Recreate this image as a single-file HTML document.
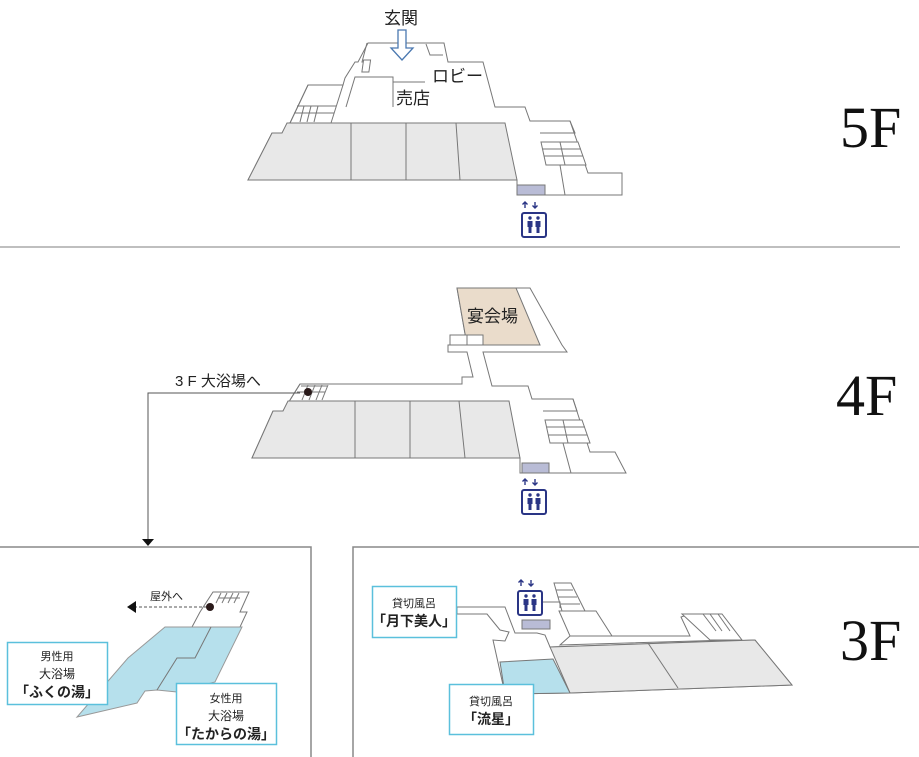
<!DOCTYPE html>
<html><head><meta charset="utf-8"><style>
html,body{margin:0;padding:0;background:#fff;}
svg{display:block;}
text{font-family:"Liberation Sans","Noto Sans CJK JP",sans-serif;fill:#222;}
.f{font-family:"Liberation Serif","Noto Serif CJK SC",serif;font-size:58px;fill:#111;}
</style></head><body>
<svg width="919" height="757" viewBox="0 0 919 757" xmlns="http://www.w3.org/2000/svg">
<defs>
<g id="ev">
  <path d="M3 -12 v-6 M0.5 -15.5 L3 -18 L5.5 -15.5 M13 -18 v6 M10.5 -14.5 L13 -12 L15.5 -14.5" stroke="#2a3585" stroke-width="1.4" fill="none"/>
  <rect x="0" y="-7" width="24" height="24" rx="2" fill="#fff" stroke="#2a3585" stroke-width="2"/>
  <circle cx="8" cy="-2" r="1.7" fill="#2a3585"/><circle cx="16" cy="-2" r="1.7" fill="#2a3585"/>
  <path d="M5.5 1h5v6h-1v6h-3v-6h-1z M13.5 1h5v6h-1v6h-3v-6h-1z" fill="#2a3585"/>
</g>
</defs>
<g stroke="#777" stroke-width="1" fill="#fff">
<!-- 5F -->
<polygon points="368,43 444,43 448,62 483,62 495,107 525,107 530,121 570,121 588,173 622,173 622,195 517,195 517,180 248,180 272,133 282,133 290,123 308,85 343,85 345,78 355,62 358,62"/>
<polygon points="248,180 272,133 282,133 287,123 505,123 517,180" fill="#e8e8e8"/>
<line x1="351" y1="123" x2="351" y2="180"/><line x1="406" y1="123" x2="406" y2="180"/><line x1="456" y1="123" x2="460" y2="180"/>
<polyline points="346,107 355,77 393,77 393,107" fill="none"/><line x1="393" y1="82" x2="425" y2="82"/>
<polyline points="367,43 362,62 370,62" fill="none"/><rect x="372" y="60" width="7" height="12" transform="skewX(-8)"/>
<polyline points="426,44 430,55 443,55" fill="none"/>
<polyline points="290,123 308,85 343,85 331,123" fill="none"/>
<line x1="297" y1="106" x2="336" y2="106"/><line x1="294" y1="113" x2="334" y2="113"/>
<line x1="304" y1="106" x2="300" y2="122"/><line x1="311" y1="106" x2="307" y2="122"/><line x1="318" y1="106" x2="314" y2="122"/>
<polyline points="536,121 570,121 575,133 540,133" fill="none"/>
<polygon points="541,142 578,142 586,165 546,165"/><line x1="560" y1="142" x2="565" y2="165"/>
<line x1="543" y1="149" x2="581" y2="149"/><line x1="544" y1="156" x2="583" y2="156"/>
<line x1="560" y1="165" x2="565" y2="195"/>
<rect x="517" y="185" width="28" height="10" fill="#b9bcd6"/>
<!-- 4F -->
<polygon points="457,288 530,288 562,345 567,352 483,352 492,386 528,386 532,399 573,399 590,452 615,452 626,473 520,473 520,458 252,458 273,411 283,411 290,400 300,384 462,384 462,377 473,377 467,352 448,352 448,345 467,345"/>
<polygon points="457,288 516,288 540,345 467,345" fill="#eadccb"/>
<rect x="450" y="335" width="17" height="10"/><rect x="467" y="335" width="16" height="10"/>
<polygon points="252,458 273,411 283,411 288,401 509,401 520,458" fill="#e8e8e8"/>
<line x1="355" y1="401" x2="355" y2="458"/><line x1="410" y1="401" x2="410" y2="458"/><line x1="459" y1="401" x2="465" y2="458"/>
<line x1="300" y1="384" x2="290" y2="400"/>
<line x1="301" y1="386" x2="327" y2="386"/><line x1="297" y1="392" x2="325" y2="392"/>
<line x1="308" y1="385" x2="302" y2="400"/><line x1="315" y1="385" x2="309" y2="400"/><line x1="322" y1="385" x2="316" y2="400"/><line x1="328" y1="385" x2="322" y2="400"/>
<polyline points="539,399 573,399 577,411 543,411" fill="none"/>
<polygon points="545,420 582,420 590,443 550,443"/><line x1="563" y1="420" x2="568" y2="443"/>
<line x1="547" y1="427" x2="585" y2="427"/><line x1="548" y1="435" x2="587" y2="435"/>
<line x1="563" y1="443" x2="571" y2="473"/>
<rect x="522" y="463" width="27" height="10" fill="#b9bcd6"/>
</g>
<!-- separator -->
<line x1="0" y1="247" x2="900" y2="247" stroke="#aaa" stroke-width="1.5"/>
<!-- connector -->
<polyline points="300,393 148,393 148,540" fill="none" stroke="#555" stroke-width="1"/>
<polygon points="142,539 154,539 148,546" fill="#111"/>
<circle cx="308" cy="392" r="4" fill="#2a1a1a"/>
<text x="175" y="386" font-size="15">3 F 大浴場へ</text>
<!-- panels -->
<polyline points="0,547 311,547 311,757" fill="none" stroke="#888" stroke-width="1.5"/>
<polyline points="353,757 353,547 919,547" fill="none" stroke="#888" stroke-width="1.5"/>
<!-- 3F left -->
<g stroke="#777" stroke-width="1">
<polygon points="213,592 249,592 240,612 247,612 240,627 192,627 200,612" fill="#fff"/>
<line x1="218" y1="598" x2="240" y2="598"/>
<line x1="221" y1="593" x2="216" y2="603"/><line x1="227" y1="593" x2="222" y2="603"/><line x1="233" y1="593" x2="228" y2="603"/><line x1="239" y1="593" x2="234" y2="603"/>
<polygon points="165,627 242,627 215,682 177,692 157,690 145,691 137,703 77,717 128,658" fill="#b6e0ec" stroke="#999"/>
<polyline points="211,627 195,658 177,658 157,690" fill="none"/>
</g>
<line x1="207" y1="607" x2="135" y2="607" stroke="#555" stroke-dasharray="3,2"/>
<polygon points="136,601 136,613 127,607" fill="#111"/>
<circle cx="210" cy="607" r="4" fill="#2a1a1a"/>
<text x="150" y="600" font-size="11">屋外へ</text>
<rect x="7.5" y="642.5" width="100" height="62" fill="#fff" stroke="#5bc0dc" stroke-width="1.5"/>
<text x="57" y="660" font-size="11" text-anchor="middle">男性用</text>
<text x="57" y="678" font-size="12" text-anchor="middle">大浴場</text>
<text x="57" y="697" font-size="14" font-weight="bold" text-anchor="middle">「ふくの湯」</text>
<rect x="176.5" y="683.5" width="100" height="61" fill="#fff" stroke="#5bc0dc" stroke-width="1.5"/>
<text x="226" y="702" font-size="11" text-anchor="middle">女性用</text>
<text x="226" y="720" font-size="12" text-anchor="middle">大浴場</text>
<text x="226" y="739" font-size="14" font-weight="bold" text-anchor="middle">「たからの湯」</text>
<!-- 3F right -->
<g stroke="#777" stroke-width="1" fill="#fff">
<polygon points="457,607 505,607 515,633 537,633 545,635 550,647 755,640 792,685 570,693 505,694 493,640 505,641 509,632 500,630 487,614 457,614"/>
<polygon points="550,647 755,640 792,685 570,693" fill="#e8e8e8"/>
<line x1="648" y1="643" x2="678" y2="688"/>
<polygon points="500,662 553,659 570,693 505,694" fill="#b6e0ec"/>
<polygon points="554,583 571,583 585,611 562,611"/>
<line x1="556" y1="590" x2="573" y2="590"/><line x1="558" y1="597" x2="577" y2="597"/><line x1="560" y1="604" x2="580" y2="604"/>
<polygon points="559,611 596,611 612,636 570,636"/>
<polyline points="542,602 560,602 560,608" fill="none"/>
<polygon points="570,636 690,636 681,617 684,616 699,616 730,640 560,645" fill="none"/>
<polygon points="682,614 722,614 742,640 710,640"/>
<line x1="703" y1="614" x2="716" y2="631"/><line x1="710" y1="614" x2="722" y2="631"/><line x1="718" y1="614" x2="730" y2="631"/>
<rect x="522" y="620" width="28" height="9" fill="#b9bcd6"/>
</g>
<rect x="372.5" y="586.5" width="84" height="51" fill="#fff" stroke="#5bc0dc" stroke-width="1.5"/>
<text x="414" y="607" font-size="11" text-anchor="middle">貸切風呂</text>
<text x="414" y="626" font-size="14" font-weight="bold" text-anchor="middle">「月下美人」</text>
<rect x="449.5" y="684.5" width="84" height="50" fill="#fff" stroke="#5bc0dc" stroke-width="1.5"/>
<text x="491" y="705" font-size="11" text-anchor="middle">貸切風呂</text>
<text x="491" y="724" font-size="14" font-weight="bold" text-anchor="middle">「流星」</text>
<!-- icons -->
<use href="#ev" x="522" y="220"/>
<use href="#ev" x="522" y="497"/>
<use href="#ev" x="518" y="598"/>
<!-- entrance arrow -->
<path d="M398 30 h8 v18 h7 l-11 12 l-11 -12 h7 z" fill="#fff" stroke="#4a78b0" stroke-width="1.3"/>
<text x="384" y="24" font-size="17">玄関</text>
<text x="432" y="82" font-size="17">ロビー</text>
<text x="396" y="104" font-size="17">売店</text>
<text x="467" y="322" font-size="17">宴会場</text>
<text class="f" x="840" y="147">5F</text>
<text class="f" x="836" y="415">4F</text>
<text class="f" x="840" y="660">3F</text>
</svg>
</body></html>
